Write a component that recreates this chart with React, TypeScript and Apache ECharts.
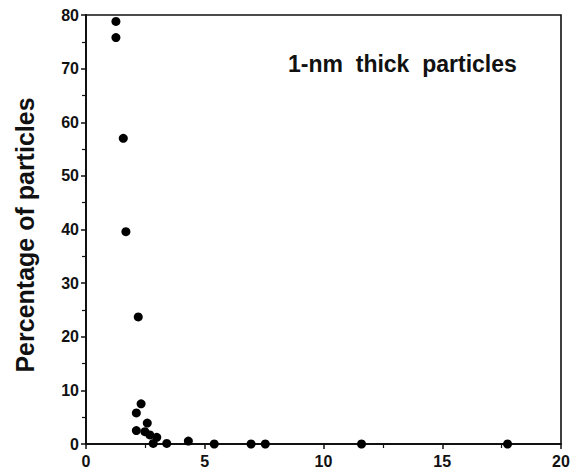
import React, { useEffect, useRef } from "react";
import * as echarts from "echarts";

const thicknessNm = [1.26, 1.26, 1.57, 1.68, 2.2, 2.32, 2.12, 2.12, 2.58, 2.48, 2.69, 2.98, 2.83, 3.4, 4.31, 5.4, 6.95, 7.55, 11.6, 17.75];
const percentage = [78.8, 75.8, 57.0, 39.6, 23.7, 7.5, 5.8, 2.5, 3.9, 2.3, 1.7, 1.25, 0.1, 0.1, 0.55, 0, 0, 0, 0, 0];
const chartTitle = "1-nm  thick  particles";
const yAxisTitle = "Percentage of particles";

export default function App() {
  const ref = useRef<HTMLDivElement>(null);
  useEffect(() => {
    if (!ref.current) return;
    const chart = echarts.init(ref.current, null, { renderer: "svg" });
    const font = "'Liberation Sans', Arial, sans-serif";
    const data = thicknessNm.map((x, i) => [x, percentage[i]]);
    chart.setOption({
      animation: false,
      backgroundColor: "#fff",
      grid: {
        left: 86, right: 13, top: 15, bottom: 30,
        show: true, borderColor: "#111", borderWidth: 1.6,
      },
      xAxis: {
        type: "value", min: 0, max: 20, interval: 5,
        axisLine: { show: true, onZero: false, lineStyle: { color: "#111", width: 2 } },
        axisTick: { show: true, inside: false, length: 5, lineStyle: { color: "#111", width: 1.5 } },
        minorTick: { show: true, splitNumber: 2, length: 4, lineStyle: { color: "#111", width: 1.2 } },
        splitLine: { show: false },
        axisLabel: { color: "#111", fontSize: 16, fontWeight: "bold", fontFamily: font, margin: 9 },
      },
      yAxis: {
        type: "value", min: 0, max: 80, interval: 10,
        axisLine: { show: true, onZero: false, lineStyle: { color: "#111", width: 2 } },
        axisTick: { show: true, inside: false, length: 5, lineStyle: { color: "#111", width: 1.5 } },
        minorTick: { show: true, splitNumber: 2, length: 4, lineStyle: { color: "#111", width: 1.2 } },
        splitLine: { show: false },
        axisLabel: { color: "#111", fontSize: 16, fontWeight: "bold", fontFamily: font, margin: 7 },
      },
      series: [
        {
          type: "scatter",
          data,
          symbol: "circle",
          symbolSize: 9,
          itemStyle: { color: "#000", opacity: 1 },
          z: 5,
        },
      ],
      graphic: [
        {
          type: "text", left: 288, top: 52,
          style: { text: chartTitle, fill: "#111", font: `bold 23px ${font}` },
        },
        {
          type: "text", x: 25, y: 235, rotation: Math.PI / 2,
          style: { text: yAxisTitle, fill: "#111", font: `bold 25px ${font}`, align: "center", verticalAlign: "middle" },
        },
      ],
    });
    return () => chart.dispose();
  }, []);
  return <div ref={ref} style={{ position: "absolute", left: 0, top: 0, width: 574, height: 474 }} />;
}
